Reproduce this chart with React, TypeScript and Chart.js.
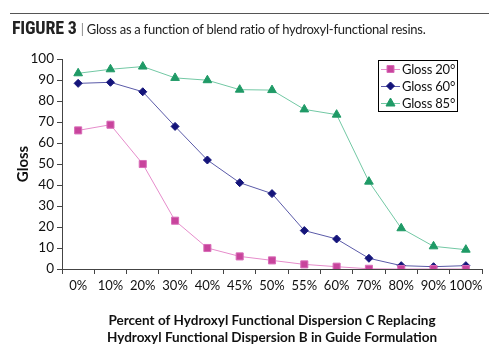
import React, { useEffect, useRef } from "react";
import { Chart, registerables } from "chart.js";

Chart.register(...registerables);

const categories = ["0%", "10%", "20%", "30%", "40%", "45%", "50%", "55%", "60%", "70%", "80%", "90%", "100%"];
const gloss20 = [66, 68.7, 50, 23, 10, 6, 4.1, 2.2, 1.1, 0.1, 0, 0, 0];
const gloss60 = [88.4, 88.9, 84.4, 67.9, 51.9, 41.1, 35.9, 18.3, 14.3, 5.1, 1.6, 1.1, 1.6];
const gloss85 = [93.2, 95.1, 96.4, 91, 89.9, 85.4, 85.2, 76, 73.5, 41.6, 19.4, 10.8, 9.2];
const seriesNames = ["Gloss 20°", "Gloss 60°", "Gloss 85°"];
const yTicks = [0, 10, 20, 30, 40, 50, 60, 70, 80, 90, 100];

const FONT = "Lato, 'Noto Sans', sans-serif";

const legendPlugin = {
  id: "boxLegend",
  afterDraw(chart: any) {
    const ctx = chart.ctx;
    const x0 = 378, y0 = 60, w = 79, h = 51;
    ctx.save();
    ctx.fillStyle = "#ffffff";
    ctx.fillRect(x0, y0, w, h);
    ctx.strokeStyle = "#000000";
    ctx.lineWidth = 1;
    ctx.strokeRect(x0 + 0.5, y0 + 0.5, w, h);
    const rows = [69, 86, 103];
    chart.data.datasets.forEach((ds: any, i: number) => {
      const y = rows[i];
      ctx.strokeStyle = ds.borderColor;
      ctx.lineWidth = 1;
      ctx.beginPath();
      ctx.moveTo(381, y + 0.5);
      ctx.lineTo(400, y + 0.5);
      ctx.stroke();
      ctx.fillStyle = ds.pointBackgroundColor;
      ctx.strokeStyle = ds.pointBorderColor;
      const r = ds.pointRadius;
      ctx.beginPath();
      const cx = 390.5;
      if (ds.pointStyle === "rect") {
        ctx.rect(cx - r * 0.7, y - r * 0.7, r * 1.4, r * 1.4);
      } else if (ds.pointStyle === "rectRot") {
        ctx.moveTo(cx, y - r);
        ctx.lineTo(cx + r, y);
        ctx.lineTo(cx, y + r);
        ctx.lineTo(cx - r, y);
        ctx.closePath();
      } else {
        ctx.moveTo(cx, y - r);
        ctx.lineTo(cx + r * 0.9, y + r * 0.6);
        ctx.lineTo(cx - r * 0.9, y + r * 0.6);
        ctx.closePath();
      }
      ctx.fill();
      ctx.stroke();
      ctx.fillStyle = "#111111";
      ctx.font = "13px " + FONT;
      try { (ctx as any).letterSpacing = "-0.2px"; } catch (e) {}
      ctx.textBaseline = "middle";
      ctx.textAlign = "left";
      ctx.fillText(ds.label, 402, y + 0.5);
      try { (ctx as any).letterSpacing = "0px"; } catch (e) {}
    });
    ctx.restore();
  },
};

export default function App() {
  const ref = useRef<HTMLCanvasElement | null>(null);
  useEffect(() => {
    document.body.style.margin = "0";
    const canvas = ref.current!;
    const chart = new Chart(canvas, {
      type: "line",
      data: {
        labels: categories,
        datasets: [
          {
            label: seriesNames[0],
            data: gloss20,
            borderColor: "#e68ccb",
            backgroundColor: "#c8449c",
            pointBackgroundColor: "#c8449c",
            pointBorderColor: "#d86cb8",
            pointStyle: "rect",
            pointRadius: 5,
            borderWidth: 1,
          },
          {
            label: seriesNames[1],
            data: gloss60,
            borderColor: "#5a5aa8",
            backgroundColor: "#14147a",
            pointBackgroundColor: "#14147a",
            pointBorderColor: "#14147a",
            pointStyle: "rectRot",
            pointRadius: 4,
            borderWidth: 1,
          },
          {
            label: seriesNames[2],
            data: gloss85,
            borderColor: "#72c8a4",
            backgroundColor: "#1f9a66",
            pointBackgroundColor: "#1f9a66",
            pointBorderColor: "#1f9a66",
            pointStyle: "triangle",
            pointRadius: 5,
            borderWidth: 1,
          },
        ],
      } as any,
      options: {
        animation: false,
        responsive: false,
        maintainAspectRatio: false,
        layout: { padding: { top: 59, left: 14, right: 18, bottom: 0 } },
        plugins: {
          legend: { display: false },
          tooltip: { enabled: false },
        },
        scales: {
          x: {
            type: "category",
            offset: true,
            grid: {
              display: true,
              drawOnChartArea: false,
              drawTicks: true,
              tickLength: 5,
              offset: true,
              color: "#444444",
            },
            border: { display: true, color: "#444444" },
            ticks: {
              color: "#111111",
              font: { family: FONT, size: 13 },
              padding: 4,
              maxRotation: 0,
              autoSkip: false,
            },
            title: {
              display: true,
              text: [
                "Percent of Hydroxyl Functional Dispersion C Replacing",
                "Hydroxyl Functional Dispersion B in Guide Formulation",
              ],
              color: "#111111",
              font: { family: FONT, size: 13.5, weight: "bold", lineHeight: 1.25 },
              padding: { top: 3, bottom: 0 },
            },
            afterFit(scale: any) {
              scale.height = 77;
            },
          },
          y: {
            min: 0,
            max: 100,
            afterBuildTicks(scale: any) {
              scale.ticks = yTicks.map((v) => ({ value: v }));
            },
            grid: {
              display: true,
              drawOnChartArea: false,
              drawTicks: true,
              tickLength: 5,
              color: "#444444",
            },
            border: { display: true, color: "#444444" },
            ticks: {
              color: "#111111",
              font: { family: FONT, size: 13.5 },
              padding: 3,
            },
            title: {
              display: true,
              text: "Gloss",
              color: "#111111",
              font: { family: FONT, size: 15, weight: "bold" },
              padding: { top: 0, bottom: 6 },
            },
            afterFit(scale: any) {
              scale.width = 48;
            },
          },
        },
      } as any,
      plugins: [legendPlugin],
    });
    return () => chart.destroy();
  }, []);

  return (
    <div style={{ position: "relative", width: 500, height: 346, background: "#ffffff", overflow: "hidden" }}>
      <canvas ref={ref} width={500} height={346} style={{ position: "absolute", left: 0, top: 0 }} />
      <div
        style={{
          position: "absolute",
          left: 10,
          top: 13,
          width: 479,
          height: 0,
          borderTop: "1.5px solid #555555",
        }}
      />
      <div
        style={{
          position: "absolute",
          left: 12,
          top: 19,
          fontFamily: FONT,
          fontSize: 13,
          letterSpacing: -0.25,
          color: "#222222",
          whiteSpace: "nowrap",
          lineHeight: "18px",
        }}
      >
        <span style={{ fontFamily: "'Liberation Sans Narrow', 'Roboto', sans-serif", fontWeight: "bold", fontSize: 18, letterSpacing: -0.2, fontStretch: "condensed" }}>
          FIGURE 3
        </span>
        <span style={{ color: "#888888", margin: "0 3px 0 4px" }}>|</span>
        <span>Gloss as a function of blend ratio of hydroxyl-functional resins.</span>
      </div>
    </div>
  );
}
